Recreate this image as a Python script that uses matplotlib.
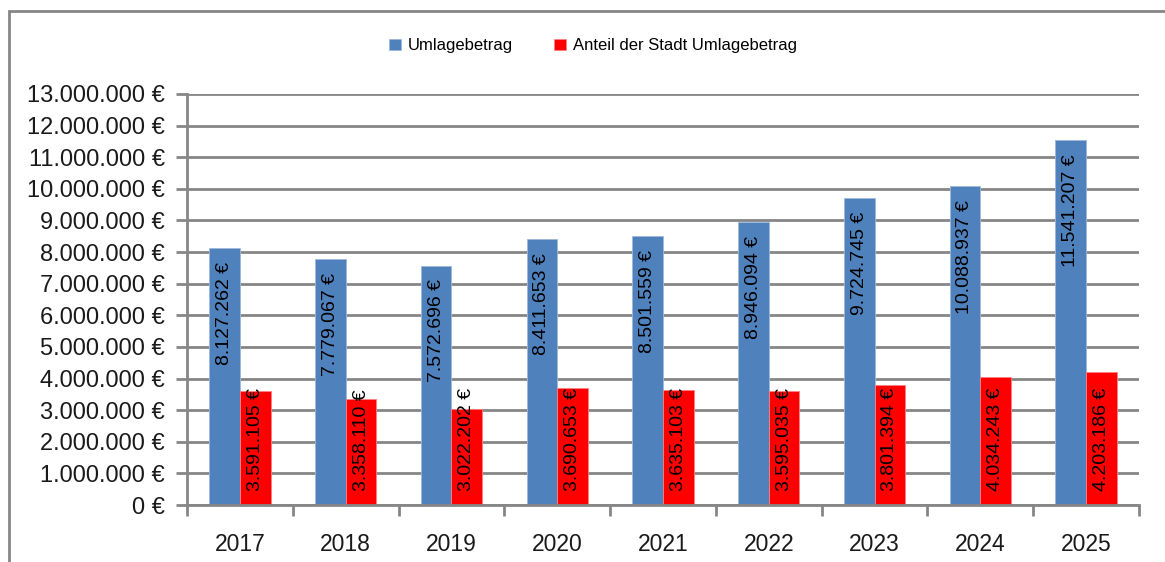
import numpy as np
import matplotlib.pyplot as plt
from matplotlib.ticker import FuncFormatter, MultipleLocator, FixedLocator
from matplotlib.patches import Rectangle

years = ["2017", "2018", "2019", "2020", "2021", "2022", "2023", "2024", "2025"]
umlage = [8127262, 7779067, 7572696, 8411653, 8501559, 8946094, 9724745, 10088937, 11541207]
anteil = [3591105, 3358110, 3022202, 3690653, 3635103, 3595035, 3801394, 4034243, 4203186]

plt.rcParams['font.family'] = ['Liberation Sans', 'DejaVu Sans']


def eur(v):
    return f"{v:,.0f}".replace(",", ".") + " €"


fig = plt.figure(figsize=(11.65, 5.62), dpi=100)
ax = fig.add_axes([187 / 1165, 1 - 505 / 562, (1139 - 187) / 1165, (505 - 94) / 562])

# outer chart frame
fig.patches.append(Rectangle((9 / 1165, -0.05), 1.1, 1 - 11 / 562 + 0.05,
                             transform=fig.transFigure, fill=False,
                             edgecolor="#868686", linewidth=2, clip_on=False))

x = np.arange(len(years))
w = 0.29
b1 = ax.bar(x - w / 2, umlage, w, color="#4F81BD", edgecolor="#9DB9DC", linewidth=0.6,
            label="Umlagebetrag", zorder=3)
b2 = ax.bar(x + w / 2, anteil, w, color="#FF0000", edgecolor="#FF8080", linewidth=0.6,
            label="Anteil der Stadt Umlagebetrag", zorder=3)

for rect, v in zip(b1, umlage):
    ax.annotate(eur(v), (rect.get_x() + rect.get_width() / 2, rect.get_height()),
                xytext=(0, -10), textcoords="offset points", rotation=90,
                ha="center", va="top", fontsize=14, color="black", zorder=4)
for rect, v in zip(b2, anteil):
    ax.annotate(eur(v), (rect.get_x() + rect.get_width() / 2, 0),
                xytext=(0, 10), textcoords="offset points", rotation=90,
                ha="center", va="bottom", fontsize=14, color="black", zorder=4)

ax.set_xlim(-0.5, len(years) - 0.5)
ax.set_ylim(0, 13000000)
ax.yaxis.set_major_locator(MultipleLocator(1000000))
ax.yaxis.set_major_formatter(FuncFormatter(lambda v, p: eur(v)))
ax.grid(axis="y", color="#868686", linewidth=2, zorder=0)

ax.set_xticks(x)
ax.set_xticklabels(years)
ax.xaxis.set_minor_locator(FixedLocator(np.arange(-0.5, len(years), 1.0)))
ax.tick_params(axis="x", which="major", length=0, pad=20, labelsize=16.5, labelcolor="#1a1a1a")
ax.tick_params(axis="x", which="minor", length=8, width=2, color="#868686")
ax.tick_params(axis="y", length=8, width=2, color="#868686", labelsize=17,
               labelcolor="#1a1a1a", pad=8)

for s in ["top", "right"]:
    ax.spines[s].set_visible(False)
for s in ["left", "bottom"]:
    ax.spines[s].set_color("#868686")
    ax.spines[s].set_linewidth(2)
    ax.spines[s].set_zorder(5)

fig.legend(handles=[b1, b2], loc="center", bbox_to_anchor=(593 / 1165, 1 - 46 / 562),
           ncol=2, frameon=False, fontsize=12, handlelength=0.7, handleheight=0.7,
           handletextpad=0.4, columnspacing=2.5)

fig.savefig("out.png", dpi=100)
